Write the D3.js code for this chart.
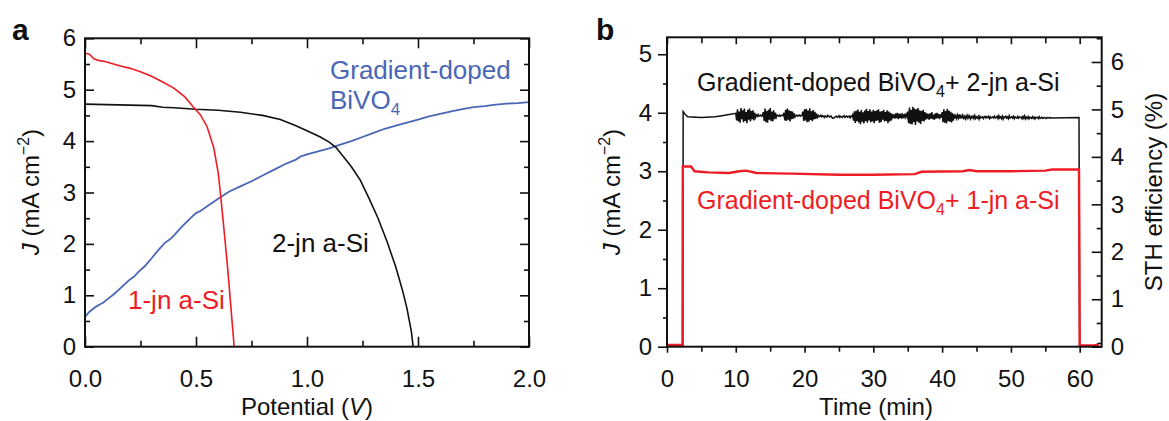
<!DOCTYPE html>
<html>
<head>
<meta charset="utf-8">
<script src="https://cdn.jsdelivr.net/npm/d3@7"></script>
<style>
  html, body { margin: 0; padding: 0; background: #fff; }
  svg text { font-family: "Liberation Sans", Arial, Helvetica, sans-serif; }
</style>
</head>
<body>
<svg id="fig" width="1169" height="421"></svg>
<script>
// ---------- Panel a: J–V curves ----------
const potA = [0, 0.5, 1.0, 1.5, 2.0];
const jTicksA = [0, 1, 2, 3, 4, 5, 6];

// 1-junction a-Si photovoltaic (V, J)
const oneJnV = [0, 0.02, 0.04, 0.06, 0.09, 0.12, 0.16, 0.2, 0.25, 0.3, 0.35, 0.4, 0.45, 0.487, 0.52, 0.55, 0.58, 0.6, 0.61, 0.62, 0.63, 0.64, 0.65, 0.66, 0.672];
const oneJnJ = [5.71, 5.69, 5.6, 5.57, 5.55, 5.51, 5.46, 5.42, 5.35, 5.26, 5.15, 5.03, 4.86, 4.67, 4.51, 4.28, 3.87, 3.38, 2.98, 2.55, 2.1, 1.65, 1.15, 0.62, 0];

// 2-junction a-Si photovoltaic (V, J)
const twoJnV = [0, 0.1, 0.2, 0.3, 0.35, 0.4, 0.5, 0.6, 0.7, 0.8, 0.88, 0.95, 1.0, 1.06, 1.1, 1.13, 1.16, 1.2, 1.24, 1.28, 1.32, 1.36, 1.4, 1.43, 1.45, 1.47, 1.478];
const twoJnJ = [4.72, 4.71, 4.7, 4.69, 4.66, 4.65, 4.62, 4.6, 4.56, 4.5, 4.42, 4.3, 4.2, 4.08, 3.98, 3.88, 3.72, 3.5, 3.24, 2.88, 2.5, 2.05, 1.55, 1.1, 0.75, 0.3, 0];

// Gradient-doped BiVO4 photoanode (V, J)
const bivoV = [0, 0.02, 0.05, 0.07, 0.08, 0.1, 0.13, 0.16, 0.2, 0.22, 0.24, 0.27, 0.3, 0.33, 0.36, 0.38, 0.4, 0.44, 0.48, 0.5, 0.52, 0.56, 0.6, 0.65, 0.7, 0.75, 0.8, 0.85, 0.9, 0.95, 0.97, 1.0, 1.05, 1.1, 1.15, 1.2, 1.25, 1.3, 1.35, 1.4, 1.45, 1.5, 1.55, 1.6, 1.65, 1.7, 1.75, 1.8, 1.85, 1.9, 1.95, 2.0];
const bivoJ = [0.58, 0.68, 0.78, 0.83, 0.85, 0.92, 1.02, 1.14, 1.3, 1.36, 1.45, 1.57, 1.72, 1.88, 2.02, 2.08, 2.16, 2.35, 2.52, 2.6, 2.64, 2.76, 2.88, 3.02, 3.12, 3.22, 3.33, 3.44, 3.55, 3.64, 3.7, 3.74, 3.8, 3.86, 3.93, 4.0, 4.08, 4.16, 4.24, 4.3, 4.36, 4.42, 4.48, 4.53, 4.58, 4.62, 4.66, 4.68, 4.71, 4.73, 4.74, 4.76];

// ---------- Panel b: chronoamperometry ----------
const timeTicks = [0, 10, 20, 30, 40, 50, 60];
const jTicksB = [0, 1, 2, 3, 4, 5];
const sthTicks = [0, 1, 2, 3, 4, 5, 6];

// BiVO4 + 2-jn a-Si: baseline (t in min, J)
const twoJnBaseT = [0, 2.3, 2.35, 2.6, 3, 5, 7, 8, 10, 20, 25, 30, 40, 45, 50, 55, 59.9, 60.0, 62, 62.8, 63.2];
const twoJnBaseJ = [0.01, 0.01, 4.02, 3.98, 3.93, 3.92, 3.93, 3.95, 3.95, 3.95, 3.93, 3.94, 3.94, 3.92, 3.92, 3.91, 3.92, 0.01, 0.01, 0.06, 0.05];
// fluctuation on top of the baseline, 0.01 mA cm-2 units, every 0.125 min from 10 min
const twoJnNoiseStart = 10, twoJnNoiseStep = 0.125;
const twoJnNoise = [
  4, -8, 11, -10, 7, -12, 13, -6, 9, -11, 12, -9, 6, -13, 10, -7, 12, -10, 8, -6, 9, -8, 5, -3,
  1, -1, 2, -1, 0, 1, -1, 0,
  6, -9, 12, -11, 8, -12, 10, -7, 13, -9, 7, -10, 9, -6, 5, -3,
  1, 0, -1, 1, -1, 0, 1, 0,
  5, -8, 10, -9, 12, -7, 9, -10, 8, -6, 7, -5, 4, -2,
  0, 1, -1, 0, 1, -1, 0, 1,
  7, -9, 11, -8, 12, -11, 9, -10, 13, -7, 8, -9, 10, -6, 7, -5, 4, -2,
  1, -1, 0, 2, -1, 1, 0, -2, 1, 0, -1, 2, 1, -1, 0, 1, -2, -3, -2, -1,
  0, 1, -1, 0, 2, -1, 1, 0, -1, 1, 2, -1, 0, 1, -1, 0, 1, -2, 1, 0,
  3, -7, 9, -11, 10, -8, 12, -10, 8, -13, 11, -9, 7, -12, 10, -8, 13, -11, 9, -7, 12, -10, 8, -9,
  11, -12, 9, -8, 10, -7, 12, -11, 8, -10, 9, -6, 11, -9, 7, -8, 10, -12, 8, -9, 6, -7, 4, -3,
  3, -4, 5, -3, 6, -5, 4, -3, 5, -4, 2, -3, 4, -2, 3, -1,
  8, -12, 15, -13, 11, -14, 16, -10, 13, -15, 12, -9, 14, -11, 10, -13, 9, -8, 11, -9, 7, -6, 5, -4,
  4, -6, 5, -4, 7, -5, 3, -6, 5, -4, 6, -3, 4, -5, 3, -2,
  7, -10, 12, -11, 9, -12, 13, -8, 10, -9, 8, -10, 6, -7, 4, -3,
  2, -3, 3, -2, 4, -3, 2, -1, 3, -2, 1, -3, 2, -2, 3, -1, 2, -3, 1, -1, 2, -2, 3, -2,
  1, -1, 2, -3, 2, -1, 0, 1, -2, 1, 2, -1, 1, 0, 2, -2, 1, -1, 0, 1, -1, 2, -1, 0,
  2, -2, 3, -1, 1, -2, 2, -3, 1, 0, 2, -1, 1, -2, 3, -1, 0, 1, -1, 2, -2, 1, 0, -1, 2, -1, 1, 0, 1, -2, 2, -1,
  3, -2, 1, -1, 2, -2, 1, 0, -1, 2, -1, 1, -2, 1, 0, 1, -1, 2, -1, 0, 1, -1, 0, 1, 0, -1, 1, 0, 0, 1, 0, 0
];

// BiVO4 + 1-jn a-Si (t in min, J)
const oneJnT = [0, 2.25, 2.3, 3.5, 4, 6, 9, 10.5, 11.5, 13, 18, 25, 30, 36, 37, 43, 44, 45, 50, 55, 56, 59.9, 60, 62, 62.8];
const oneJnTJ = [0.03, 0.03, 3.08, 3.08, 3.0, 2.98, 2.97, 3.0, 3.01, 2.97, 2.96, 2.94, 2.94, 2.95, 2.99, 3.0, 3.02, 3.0, 3.0, 3.01, 3.03, 3.03, 0.02, 0.02, 0.03];

const RED = "#ee1c24", BLUE = "#4a67b6", INK = "#111";
const FS = 24;

const svg = d3.select("#fig");
svg.append("rect").attr("width", 1169).attr("height", 421).attr("fill", "#fff");

const zip = (a, b) => a.map((v, i) => [v, b[i]]);

function drawTicks(g, axis) {
  g.call(axis);
  g.select(".domain").remove();
  g.selectAll(".tick line").attr("stroke", INK).attr("stroke-width", 1.6);
  g.selectAll(".tick text").attr("fill", INK).attr("font-size", FS)
    .attr("font-family", '"Liberation Sans", Arial, sans-serif');
}

function yTitle(x, y, rot) {
  return svg.append("text")
    .attr("transform", `translate(${x},${y}) rotate(${rot})`)
    .attr("text-anchor", "middle").attr("font-size", FS).attr("fill", INK);
}

function jTitle(x, y) {
  const t = yTitle(x, y, -90);
  t.append("tspan").attr("font-style", "italic").text("J");
  t.append("tspan").text(" (mA cm");
  t.append("tspan").attr("font-size", 16).attr("dy", -10).text("\u22122");
  t.append("tspan").attr("dy", 10).text(")");
}

// ================= Panel a =================
const xA = d3.scaleLinear([0, 2], [85, 529]);
const yA = d3.scaleLinear([0, 6], [346.7, 38.3]);
const gA = svg.append("g");

// inward ticks on all four sides
drawTicks(gA.append("g").attr("transform", "translate(0,346.7)"),
  d3.axisBottom(xA).tickValues(potA).tickFormat(d3.format(".1f")).tickSize(-10).tickPadding(23));
drawTicks(gA.append("g").attr("transform", "translate(0,346.7)"),
  d3.axisBottom(xA).tickValues([0.25, 0.75, 1.25, 1.75]).tickFormat("").tickSize(-6));
drawTicks(gA.append("g").attr("transform", "translate(0,38.3)"),
  d3.axisTop(xA).tickValues(potA).tickFormat("").tickSize(-10));
drawTicks(gA.append("g").attr("transform", "translate(0,38.3)"),
  d3.axisTop(xA).tickValues([0.25, 0.75, 1.25, 1.75]).tickFormat("").tickSize(-6));
drawTicks(gA.append("g").attr("transform", "translate(85,0)"),
  d3.axisLeft(yA).tickValues(jTicksA).tickFormat(d3.format("d")).tickSize(-9).tickPadding(9));
drawTicks(gA.append("g").attr("transform", "translate(85,0)"),
  d3.axisLeft(yA).tickValues([0.5, 1.5, 2.5, 3.5, 4.5, 5.5]).tickFormat("").tickSize(-5));
drawTicks(gA.append("g").attr("transform", "translate(529,0)"),
  d3.axisRight(yA).tickValues(jTicksA).tickFormat("").tickSize(-9));
drawTicks(gA.append("g").attr("transform", "translate(529,0)"),
  d3.axisRight(yA).tickValues([0.5, 1.5, 2.5, 3.5, 4.5, 5.5]).tickFormat("").tickSize(-5));

const lineA = d3.line().x(d => xA(d[0])).y(d => yA(d[1]));
gA.append("path").datum(zip(bivoV, bivoJ)).attr("d", lineA)
  .attr("fill", "none").attr("stroke", BLUE).attr("stroke-width", 1.8);
gA.append("path").datum(zip(twoJnV, twoJnJ)).attr("d", lineA)
  .attr("fill", "none").attr("stroke", INK).attr("stroke-width", 1.6);
gA.append("path").datum(zip(oneJnV, oneJnJ)).attr("d", lineA)
  .attr("fill", "none").attr("stroke", RED).attr("stroke-width", 1.6);

gA.append("rect").attr("x", 85).attr("y", 38.3).attr("width", 444).attr("height", 308.4)
  .attr("fill", "none").attr("stroke", INK).attr("stroke-width", 2);

// curve labels
gA.append("text").attr("x", 330).attr("y", 79).attr("font-size", 26).attr("fill", BLUE).text("Gradient-doped");
const bv = gA.append("text").attr("x", 330).attr("y", 109).attr("font-size", 26).attr("fill", BLUE);
bv.append("tspan").text("BiVO");
bv.append("tspan").attr("font-size", 17).attr("dy", 6).text("4");
gA.append("text").attr("x", 272).attr("y", 252).attr("font-size", 26).attr("fill", INK).text("2-jn a-Si");
gA.append("text").attr("x", 128).attr("y", 309).attr("font-size", 26).attr("fill", RED).text("1-jn a-Si");

// axis titles
jTitle(39, 192);
svg.append("text").attr("x", 307).attr("y", 415).attr("text-anchor", "middle")
  .attr("font-size", FS).attr("fill", INK)
  .call(t => { t.append("tspan").text("Potential ("); t.append("tspan").attr("font-style", "italic").text("V"); t.append("tspan").text(")"); });

svg.append("text").attr("x", 12).attr("y", 40).attr("font-size", 30).attr("font-weight", "bold").attr("fill", INK).text("a");

// ================= Panel b =================
const xB = d3.scaleLinear([0, 63.2], [667, 1101.7]);
const yB = d3.scaleLinear([0, 5.29], [346.7, 37.3]);
const yS = d3.scaleLinear([0, 6.52], [346.7, 37.3]);
const gB = svg.append("g");

drawTicks(gB.append("g").attr("transform", "translate(0,346.7)"),
  d3.axisBottom(xB).tickValues(timeTicks).tickFormat(d3.format("d")).tickSize(6).tickPadding(17));
drawTicks(gB.append("g").attr("transform", "translate(0,346.7)"),
  d3.axisBottom(xB).tickValues([5, 15, 25, 35, 45, 55]).tickFormat("").tickSize(5));
drawTicks(gB.append("g").attr("transform", "translate(0,37.3)"),
  d3.axisTop(xB).tickValues(timeTicks).tickFormat("").tickSize(-7));
drawTicks(gB.append("g").attr("transform", "translate(0,37.3)"),
  d3.axisTop(xB).tickValues([5, 15, 25, 35, 45, 55]).tickFormat("").tickSize(-6));
drawTicks(gB.append("g").attr("transform", "translate(667,0)"),
  d3.axisLeft(yB).tickValues(jTicksB).tickFormat(d3.format("d")).tickSize(9).tickPadding(6));
drawTicks(gB.append("g").attr("transform", "translate(667,0)"),
  d3.axisLeft(yB).tickValues([0.5, 1.5, 2.5, 3.5, 4.5]).tickFormat("").tickSize(4));
drawTicks(gB.append("g").attr("transform", "translate(1101.7,0)"),
  d3.axisRight(yS).tickValues(sthTicks).tickFormat(d3.format("d")).tickSize(-10).tickPadding(9));
drawTicks(gB.append("g").attr("transform", "translate(1101.7,0)"),
  d3.axisRight(yS).tickValues([0.5, 1.5, 2.5, 3.5, 4.5, 5.5, 6.5].filter(v => v < 6.52)).tickFormat("").tickSize(-5));

// build the 2-jn trace: baseline plus the recorded fluctuation
const baseInterp = t => {
  let i = d3.bisectRight(twoJnBaseT, t) - 1;
  i = Math.max(0, Math.min(i, twoJnBaseT.length - 2));
  const t0 = twoJnBaseT[i], t1 = twoJnBaseT[i + 1];
  const f = (t - t0) / (t1 - t0);
  return twoJnBaseJ[i] + f * (twoJnBaseJ[i + 1] - twoJnBaseJ[i]);
};
const twoJnSeries = [];
twoJnBaseT.forEach((t, i) => { if (t < twoJnNoiseStart) twoJnSeries.push([t, twoJnBaseJ[i]]); });
twoJnNoise.forEach((d, k) => {
  const t = twoJnNoiseStart + k * twoJnNoiseStep;
  twoJnSeries.push([t, baseInterp(t) + d / 100]);
});
const lastNoiseT = twoJnNoiseStart + (twoJnNoise.length - 1) * twoJnNoiseStep;
twoJnBaseT.forEach((t, i) => { if (t > lastNoiseT) twoJnSeries.push([t, twoJnBaseJ[i]]); });

const lineB = d3.line().x(d => xB(d[0])).y(d => yB(d[1]));
gB.append("path").datum(twoJnSeries).attr("d", lineB)
  .attr("fill", "none").attr("stroke", INK).attr("stroke-width", 1.5);
gB.append("path").datum(zip(oneJnT, oneJnTJ)).attr("d", lineB)
  .attr("fill", "none").attr("stroke", RED).attr("stroke-width", 2.4);

gB.append("rect").attr("x", 667).attr("y", 37.3).attr("width", 434.7).attr("height", 309.4)
  .attr("fill", "none").attr("stroke", INK).attr("stroke-width", 2);

// trace labels
function comboLabel(y, color, jn) {
  const t = gB.append("text").attr("x", 697).attr("y", y).attr("font-size", 25).attr("fill", color);
  t.append("tspan").text("Gradient-doped BiVO");
  t.append("tspan").attr("font-size", 16).attr("dy", 6).text("4");
  t.append("tspan").attr("dy", -6).text(`+ ${jn}-jn a-Si`);
}
comboLabel(91, INK, 2);
comboLabel(209, RED, 1);

jTitle(620, 192);
yTitle(1162, 192, -90).text("STH efficiency (%)");
svg.append("text").attr("x", 876).attr("y", 415).attr("text-anchor", "middle")
  .attr("font-size", FS).attr("fill", INK).text("Time (min)");

svg.append("text").attr("x", 596).attr("y", 40).attr("font-size", 30).attr("font-weight", "bold").attr("fill", INK).text("b");
</script>
</body>
</html>
